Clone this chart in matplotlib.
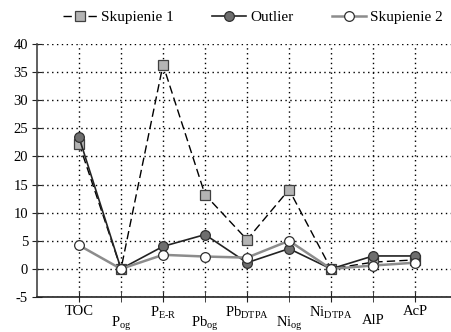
import numpy as np
import matplotlib
matplotlib.use('Agg')
import matplotlib.pyplot as plt

plt.rcParams['font.family'] = ['Liberation Serif', 'DejaVu Serif']
plt.rcParams['mathtext.fontset'] = 'custom'
plt.rcParams['mathtext.rm'] = 'Liberation Serif'
plt.rcParams['font.size'] = 10.5
plt.rcParams['axes.unicode_minus'] = False

categories = ['TOC', r'P$_{\mathrm{og}}$', r'P$_{\text{E-R}}$', r'Pb$_{\mathrm{og}}$',
              r'Pb$_{\mathrm{DTPA}}$', r'Ni$_{\mathrm{og}}$', r'Ni$_{\mathrm{DTPA}}$', 'AlP', 'AcP']
skupienie1 = [22.3, 0, 36.3, 13.2, 5.2, 14.1, 0, 1.2, 1.6]
outlier = [23.4, 0, 4.0, 6.1, 1.1, 3.6, 0, 2.3, 2.3]
skupienie2 = [4.2, 0, 2.5, 2.2, 2.0, 5.0, 0, 0.6, 1.1]

x = np.arange(len(categories))

fig = plt.figure(figsize=(4.52, 3.32), dpi=100)
ax = fig.add_axes([37 / 452, 35 / 332, 1 - 37 / 452, 253 / 332])

ax.plot(x, skupienie1, color='black', lw=1.0, ls=(0, (6, 3)), marker='s', ms=7,
        mfc='#b4b4b4', mec='#404040', mew=0.9, label='Skupienie 1', zorder=3)
ax.plot(x, outlier, color='#222222', lw=1.2, marker='o', ms=7,
        mfc='#6e6e6e', mec='#303030', mew=0.9, label='Outlier', zorder=4)
ax.plot(x, skupienie2, color='#8c8c8c', lw=1.8, marker='o', ms=7,
        mfc='white', mec='#303030', mew=0.9, label='Skupienie 2', zorder=5)

ax.set_xlim(-1, 8.88)
ax.set_ylim(-5, 40)
ax.set_yticks(np.arange(-5, 41, 5))

ax.set_xticks(x[::2])
ax.set_xticklabels(categories[::2])
ax.set_xticks(x[1::2], minor=True)
ax.set_xticklabels(categories[1::2], minor=True)
ax.tick_params(axis='x', which='major', direction='inout', length=7, pad=2, colors='#222222')
ax.tick_params(axis='x', which='minor', direction='inout', length=7, pad=9, colors='#222222')
ax.tick_params(axis='y', direction='inout', length=7, pad=3, colors='#222222')
for lbl in ax.get_xticklabels(which='both') + ax.get_yticklabels():
    lbl.set_color('black')

ax.grid(True, which='both', color='black', ls=(0, (1, 2.5)), lw=1.0)
ax.set_axisbelow(True)

ax.spines['top'].set_visible(False)
ax.spines['right'].set_visible(False)
ax.spines['left'].set_color('#444444')
ax.spines['bottom'].set_color('#222222')
ax.spines['left'].set_linewidth(1.2)
ax.spines['bottom'].set_linewidth(1.2)

fig.legend(loc='upper center', bbox_to_anchor=(0.56, 1.01), ncol=3, frameon=False,
           handlelength=2.2, columnspacing=2.5, handletextpad=0.3, fontsize=11)

fig.savefig('out.png', dpi=100)
